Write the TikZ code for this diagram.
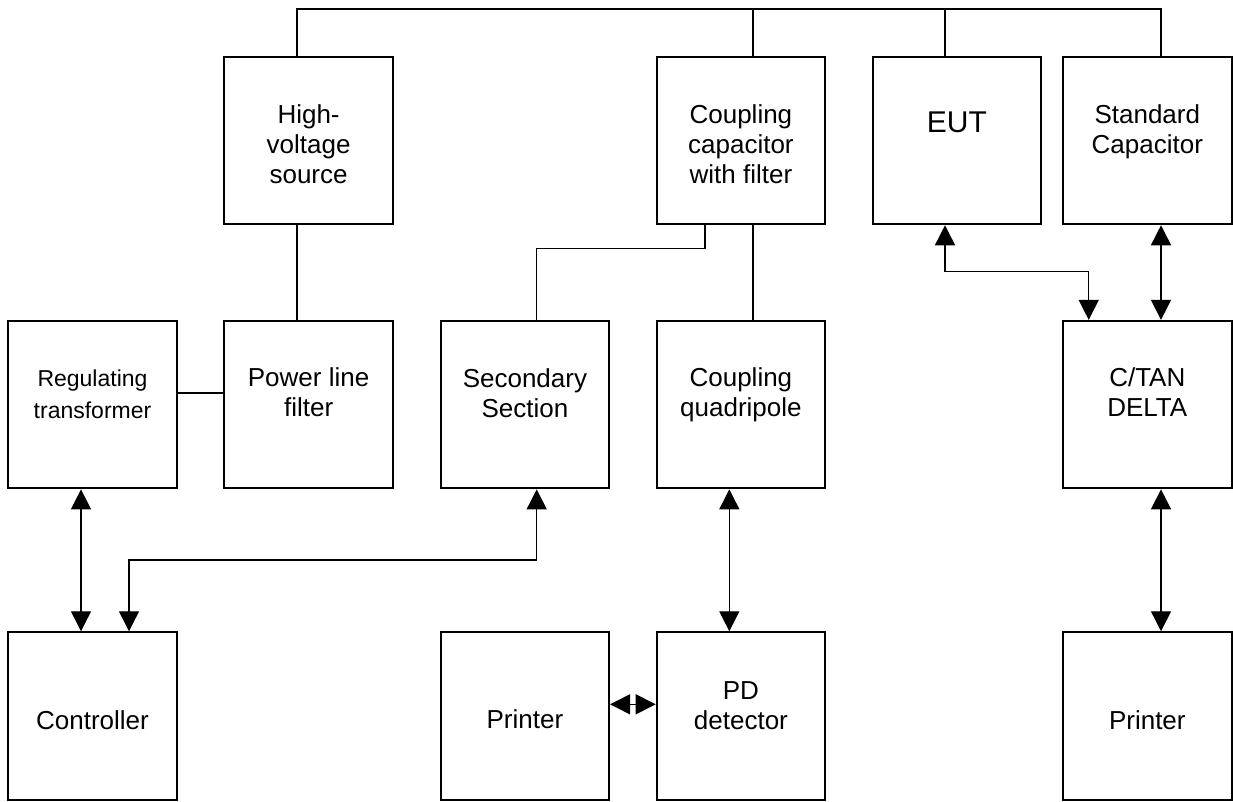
\documentclass[tikz,border=0pt]{standalone}
\usepackage{fontspec}
\setmainfont{Liberation Sans}
\usetikzlibrary{arrows.meta}
\begin{document}
\begin{tikzpicture}[x=1pt,y=-1pt,
  blk/.style={draw, line width=2pt, minimum width=168.4pt, minimum height=167.5pt, inner sep=0pt},
  lbl/.style={align=center, font=\fontsize{26}{30}\selectfont, inner sep=0pt},
  lblsmall/.style={align=center, font=\fontsize{23}{32}\selectfont, inner sep=0pt},
  lblbig/.style={align=center, font=\fontsize{30}{36}\selectfont, inner sep=0pt},
  wire/.style={line width=1.4pt},
  dbl/.style={line width=1.4pt, {Triangle[length=20pt,width=20pt]}-{Triangle[length=20pt,width=20pt]}}
]
\useasboundingbox (0,0) rectangle (1233,801);
% boxes
\node[blk] (hv)   at (308.6,140.5) {};
\node[blk] (coup) at (740.9,140.5) {};
\node[blk] (eut)  at (956.9,140.5) {};
\node[blk] (std)  at (1147.3,140.5) {};
\node[blk] (reg)  at (92.5,404.6) {};
\node[blk] (pwr)  at (308.6,404.6) {};
\node[blk] (sec)  at (524.9,404.6) {};
\node[blk] (quad) at (740.9,404.6) {};
\node[blk] (ctan) at (1147.3,404.6) {};
\node[blk] (ctrl) at (92.5,716) {};
\node[blk] (prn1) at (524.9,716) {};
\node[blk] (pd)   at (740.9,716) {};
\node[blk] (prn2) at (1147.3,716) {};
% labels
\node[lbl] (hvT)   at (308.6,144) {High-\\voltage\\source};
\node[lbl] (coupT) at (740.9,144.5) {Coupling\\capacitor\\with filter};
\node[lblbig] (eutT) at (956.9,122.5) {EUT};
\node[lbl] (stdT)  at (1147.3,131.5) {Standard\\Capacitor};
\node[lblsmall] (regT) at (92.5,394) {Regulating\\transformer};
\node[lbl] (pwrT)  at (308.6,392.5) {Power line\\filter};
\node[lbl] (secT)  at (524.9,393) {Secondary\\Section};
\node[lbl] (quadT) at (740.9,395) {Coupling\\quadripole};
\node[lbl] (ctanT) at (1147.3,392.5) {C/TAN\\DELTA};
\node[lbl] (ctrlT) at (92.5,719.7) {Controller};
\node[lbl] (prn1T) at (524.9,719.3) {Printer};
\node[lbl] (pdT)   at (740.9,705.5) {PD\\detector};
\node[lbl] (prn2T) at (1147.3,720) {Printer};
% coordinates for connectors
\coordinate (bL) at (297,9);
\coordinate (bC) at (753,9);
\coordinate (bE) at (945,9);
\coordinate (bR) at (1161,9);
\coordinate (rp) at (0,393);
\coordinate (cs1) at (705,248.3);
\coordinate (cs2) at (536.7,248.3);
\coordinate (qp) at (729.3,0);
\coordinate (pp) at (0,704.3);
\coordinate (rc) at (81,0);
\coordinate (sc1) at (536.7,560);
\coordinate (sc2) at (129,560);
\coordinate (ec1) at (945,271.7);
\coordinate (ec2) at (1088.7,271.7);
% wires
\draw[wire] (hv.north -| bL) -- (bL) -- (bR) -- (std.north -| bR);
\draw[wire] (bC) -- (coup.north -| bC);
\draw[wire] (bE) -- (eut.north -| bE);
\draw[wire] (hv.south -| bL) -- (pwr.north -| bL);
\draw[wire] (reg.east |- rp) -- (pwr.west |- rp);
\draw[wire] (coup.south -| cs1) -- (cs1) -- (cs2) -- (sec.north -| cs2);
\draw[wire] (coup.south -| bC) -- (quad.north -| bC);
% arrows
\draw[dbl] (quad.south -| qp) -- (pd.north -| qp);
\draw[dbl] (prn1.east |- pp) -- (pd.west |- pp);
\draw[dbl] (reg.south -| rc) -- (ctrl.north -| rc);
\draw[dbl] (sec.south -| sc1) -- (sc1) -- (sc2) -- (ctrl.north -| sc2);
\draw[dbl] (eut.south -| ec1) -- (ec1) -- (ec2) -- (ctan.north -| ec2);
\draw[dbl] (std.south -| bR) -- (ctan.north -| bR);
\draw[dbl] (ctan.south -| bR) -- (prn2.north -| bR);
\end{tikzpicture}
\end{document}
